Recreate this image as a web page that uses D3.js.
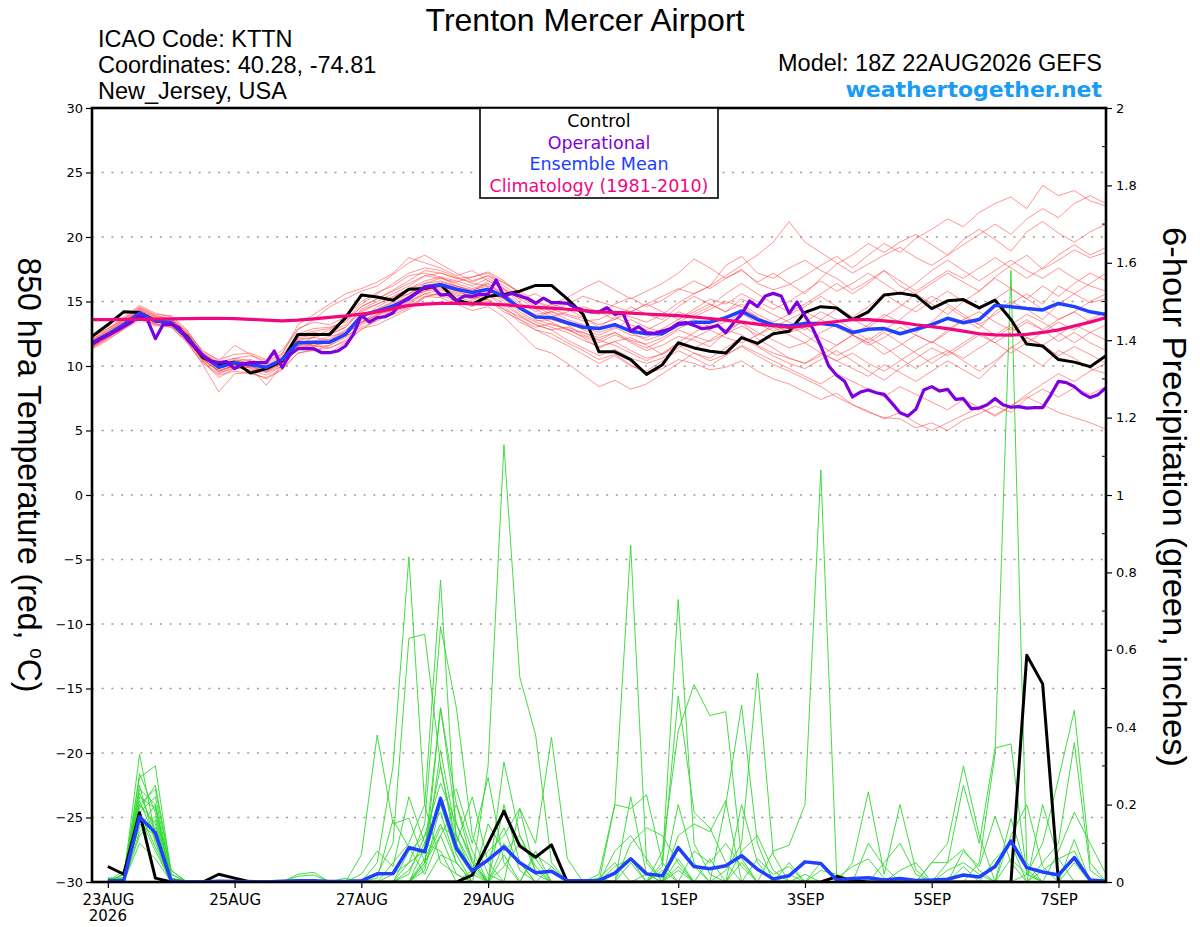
<!DOCTYPE html>
<html>
<head>
<meta charset="utf-8">
<script src="https://cdn.jsdelivr.net/npm/d3@7"></script>
<style>
  body { margin: 0; background: #fff; }
  svg { display: block; }
</style>
</head>
<body>
<div id="chart"></div>
<script>
// GEFS meteogram, Trenton Mercer Airport (KTTN), run 18Z 22AUG2026
const runStart = Date.UTC(2026, 7, 22, 18);
const HOUR = 3600 * 1000;

const tickDates = [
  Date.UTC(2026, 7, 23), Date.UTC(2026, 7, 25), Date.UTC(2026, 7, 27), Date.UTC(2026, 7, 29),
  Date.UTC(2026, 8, 1), Date.UTC(2026, 8, 3), Date.UTC(2026, 8, 5), Date.UTC(2026, 8, 7)
];
const tickLabels = ["23AUG", "25AUG", "27AUG", "29AUG", "1SEP", "3SEP", "5SEP", "7SEP"];
const tempTicks = [30, 25, 20, 15, 10, 5, 0, -5, -10, -15, -20, -25, -30];
const precipTicks = [0, 0.2, 0.4, 0.6, 0.8, 1, 1.2, 1.4, 1.6, 1.8, 2];
const precipMinor = [0.1, 0.3, 0.5, 0.7, 0.9, 1.1, 1.3, 1.5, 1.7, 1.9];
const legendItems = ["Control", "Operational", "Ensemble Mean", "Climatology (1981-2010)"];

// 850 hPa temperature, 6-hourly
const tempControl = [12.3, 13.2, 14.2, 14.15, 13.5, 13.3, 12.3, 10.65, 10.1, 10.3, 9.45, 9.8, 10.4,
  12.45, 12.45, 12.45, 13.75, 15.5, 15.35, 15.1, 15.95, 16.0, 16.3, 15.1, 14.8, 15.4, 15.55, 15.8,
  16.25, 16.25, 15.2, 14.0, 11.1, 11.1, 10.5, 9.35, 10.1, 11.8, 11.4, 11.15, 11.0, 12.2, 11.75, 12.5,
  12.7, 14.15, 14.6, 14.5, 13.6, 14.2, 15.5, 15.65, 15.45, 14.45, 15.05, 15.15, 14.5, 15.1, 13.6,
  11.7, 11.55, 10.5, 10.3, 9.95, 10.8];

const tempMean = [11.8, 12.45, 13.2, 14.1, 13.5, 13.35, 12.2, 10.8, 9.9, 10.25, 10.1, 9.9, 10.5,
  11.8, 11.85, 11.85, 12.45, 13.9, 14.25, 14.65, 15.2, 16.15, 16.3, 15.95, 15.7, 15.95, 15.4, 14.5,
  13.8, 13.75, 13.35, 13.0, 12.9, 13.2, 12.7, 12.5, 12.5, 13.2, 13.4, 13.4, 13.75, 14.25, 13.6, 13.2,
  13.1, 13.3, 13.3, 13.15, 12.6, 12.85, 12.9, 12.5, 12.85, 13.2, 13.7, 13.35, 13.6, 14.7, 14.6,
  14.45, 14.35, 14.85, 14.6, 14.2, 14.0];

const tempClimo = [13.6, 13.6, 13.61, 13.62, 13.63, 13.65, 13.67, 13.69, 13.7, 13.68, 13.62, 13.55,
  13.5, 13.55, 13.65, 13.77, 13.88, 14.02, 14.2, 14.45, 14.7, 14.8, 14.85, 14.85, 14.83, 14.8, 14.75,
  14.65, 14.55, 14.48, 14.4, 14.3, 14.2, 14.15, 14.1, 14.03, 13.97, 13.9, 13.8, 13.68, 13.55, 13.4,
  13.25, 13.12, 13.0, 13.1, 13.3, 13.45, 13.6, 13.6, 13.5, 13.38, 13.2, 13.05, 12.9, 12.7, 12.5,
  12.42, 12.4, 12.45, 12.6, 12.8, 13.1, 13.4, 13.75];

// operational run, 3-hourly
const tempOper = [11.68, 12.07, 12.38, 12.71, 13.05, 13.41, 13.88, 13.57, 12.12, 13.23,
  13.23, 12.97, 12.07, 11.42, 10.78, 10.39, 10.26, 10.34, 9.79, 10.13,
  10.26, 10.26, 10.26, 11.16, 9.87, 10.9, 11.34, 11.34, 11.34, 11.03,
  11.03, 11.16, 11.55, 12.45, 13.93, 13.41, 13.75, 13.82, 14.13, 14.91,
  15.3, 15.68, 16.07, 16.15, 15.5, 15.56, 15.04, 15.43, 15.4, 15.56,
  15.56, 16.67, 15.43, 15.63, 15.43, 15.22, 14.86, 15.27, 14.91, 14.91,
  14.86, 14.52, 14.34, 14.19, 14.19, 14.52, 14.0, 14.13, 12.71, 13.05,
  12.58, 12.53, 12.71, 12.89, 13.31, 13.36, 13.15, 12.89, 12.97, 13.15,
  12.58, 13.36, 14.0, 15.04, 14.6, 15.43, 15.63, 15.43, 14.08, 14.96,
  13.88, 12.89, 11.55, 10.0, 9.28, 8.81, 7.6, 7.98, 8.14, 7.93,
  7.8, 7.1, 6.38, 6.12, 6.64, 8.14, 8.4, 8.06, 8.19, 7.42,
  7.47, 6.69, 6.74, 7.0, 7.47, 7.0, 6.8, 6.85, 6.74, 6.77,
  6.77, 7.73, 8.81, 8.71, 8.4, 7.88, 7.55, 7.78, 8.32];

// ensemble members, 6-hourly
const tm01 = [12.0,12.7,13.5,14.3,13.8,13.2,12.0, 10.5,9.6,10.0,10.4,9.7,10.2, 11.5,12.3,12.8,13.5,14.6,15.2,15.8,16.4,17.0,16.8, 16.5,16.9,17.2,16.4,15.8,15.0,14.6,14.9,14.2, 14.0,14.8,15.3,14.6,15.1,15.9,16.6,16.0,16.8,17.5,16.4,15.9,16.3, 17.0,17.8,18.5,17.6,18.6,19.5,18.8,19.9,20.6,21.4,20.8,21.9,22.6,23.1,22.2,24.0,23.2,23.6,22.8,22.4];
const tm02 = [11.5,12.2,13.0,13.9,13.6,13.7,12.5, 10.9,10.2,10.1,9.6,9.9,10.7, 12.0,11.6,11.4,12.0,13.3,14.0,14.3,14.8,15.6,15.9, 15.5,15.2,15.5,14.6,13.6,12.8,12.5,11.8,11.2, 10.5,10.9,10.1,9.4,9.8,10.5,10.2,9.7,9.9,10.4,9.6,9.0,8.6, 8.0,7.4,7.9,7.0,6.4,6.0,5.9,5.2,5.6,5.0,5.8,6.3,6.9,6.4,7.5,8.2,7.6,8.3,7.8,8.4];
const tm03 = [12.2,12.9,13.6,14.5,13.9,13.6,12.6, 11.2,10.4,11.6,10.9,10.2,11.0, 12.8,13.6,14.6,15.2,15.8,16.2,17.1,18.0,18.6,17.9, 17.2,16.6,17.0,16.5,15.6,14.8,14.2,13.9,13.5, 13.6,14.2,13.8,13.4,14.0,14.9,15.6,16.2,17.8,18.5,17.2,16.8,17.6, 18.2,17.4,16.8,15.9,16.6,17.4,16.2,15.6,16.4,17.2,16.5,15.8,16.9,17.8,18.6,17.5,18.2,19.0,18.4,18.8];
const tm04 = [11.3,12.0,12.9,13.8,13.2,13.0,11.8, 10.2,9.3,9.6,9.4,9.1,9.8, 11.0,11.3,11.0,11.8,12.9,13.2,13.8,14.4,15.3,15.7, 15.4,15.0,15.8,15.2,14.2,13.5,13.6,13.2,12.4, 12.0,12.6,11.8,11.2,11.6,12.3,12.0,11.5,12.6,13.4,12.1,11.4,10.6, 10.2,11.0,10.4,9.8,9.2,10.1,9.5,8.8,9.6,10.4,9.7,9.0,10.2,11.5,10.8,10.0,11.2,10.6,9.8,9.4];
const tm05 = [11.9,12.6,13.4,14.0,13.3,13.5,12.4, 10.6,9.8,10.5,10.2,9.7,10.4, 12.2,12.4,12.5,13.0,14.2,14.8,15.4,16.0,16.6,16.9, 16.6,16.2,16.8,16.0,14.9,14.2,14.8,14.4,13.8, 13.0,13.8,13.2,12.8,13.4,14.2,13.8,14.4,15.0,14.6,13.8,13.2,12.6, 13.0,12.2,11.6,12.4,11.8,10.9,11.6,12.4,11.8,12.8,13.6,12.9,14.2,15.0,14.4,13.6,14.8,15.6,14.9,15.2];
const tm06 = [11.6,12.3,13.1,14.2,13.7,13.2,12.0, 10.4,9.1,9.8,9.9,8.5,10.1, 11.3,11.8,12.1,12.8,13.6,14.6,15.2,15.6,16.2,16.5, 16.2,15.8,16.4,15.6,14.8,13.6,13.2,12.9,12.2, 11.4,11.9,12.2,11.6,10.9,11.8,12.6,13.2,12.8,13.4,12.6,12.0,11.4, 11.8,12.6,13.2,12.4,11.6,12.2,13.0,12.4,11.8,12.6,13.6,14.2,13.4,12.8,13.6,12.8,11.9,12.6,11.8,11.2];
const tm07 = [11.7,12.4,13.3,14.4,13.6,13.4,12.3, 10.8,10.0,10.2,9.8,9.5,10.0, 11.4,11.6,11.8,12.3,13.0,13.5,14.2,14.6,15.4,15.3, 14.8,14.3,14.6,13.8,12.6,11.4,11.0,10.2,9.3, 8.4,8.9,8.2,8.6,9.4,10.2,11.0,10.6,11.4,12.2,11.5,10.8,10.2, 9.8,10.5,11.2,10.4,9.6,8.9,9.8,10.6,11.4,10.8,11.6,12.4,11.8,12.6,13.4,12.8,13.6,14.2,13.4,13.8];
const tm08 = [12.1,12.8,13.7,14.6,14.0,13.9,12.8, 11.0,10.3,10.6,10.8,10.4,10.9, 13.2,14.0,14.8,15.6,16.0,16.5,17.2,18.4,18.0,17.6, 17.0,17.4,16.6,15.9,15.2,15.6,14.8,15.3,16.0, 16.6,15.9,15.2,15.8,16.4,17.2,18.3,17.6,16.8,17.4,16.5,17.2,16.4, 15.6,16.8,17.9,18.6,19.5,18.8,19.6,20.2,19.4,18.6,19.8,20.6,19.8,18.9,20.4,21.2,20.3,19.6,20.4,21.0];
const tm09 = [11.4,12.1,12.8,13.6,13.1,13.1,12.0, 10.3,9.4,9.9,9.7,9.3,10.0, 11.6,11.2,11.4,11.9,12.8,13.6,14.4,14.9,15.8,16.2, 15.8,15.4,15.1,14.2,13.6,13.0,13.3,12.8,12.3, 11.8,12.4,11.9,11.4,12.0,12.8,12.3,11.9,12.5,13.1,12.4,13.0,13.6, 14.2,13.6,13.0,12.4,13.2,14.0,13.4,12.6,13.4,14.6,13.8,13.2,14.0,14.8,15.6,14.8,16.2,15.6,16.4,17.2];
const tm10 = [11.8,12.5,13.4,14.3,13.6,13.6,12.5, 10.9,10.1,10.4,10.1,10.0,10.6, 12.0,12.2,12.0,12.7,14.0,14.4,15.0,15.6,16.4,16.8, 16.4,16.0,16.4,15.4,14.6,14.0,14.2,13.6,13.2, 12.8,13.3,12.6,12.0,12.4,13.2,13.6,13.0,13.4,14.1,13.3,12.7,13.2, 12.4,11.6,10.8,11.4,12.2,11.5,10.6,9.8,10.6,11.2,10.4,9.6,10.4,11.4,12.2,11.6,10.8,11.5,10.9,10.2];
const tm11 = [11.5,12.3,13.1,13.8,13.4,13.3,12.1, 10.4,9.7,10.0,10.0,9.6,10.3, 11.5,11.9,12.3,12.6,13.4,14.0,14.6,15.2,15.9,16.1, 15.7,15.5,15.9,15.0,14.0,13.4,13.0,12.6,12.0, 11.5,11.9,11.2,10.6,10.9,11.6,11.0,10.4,10.9,11.5,10.8,10.1,9.6, 9.0,8.4,7.6,7.0,6.5,5.9,6.4,5.6,5.0,5.6,6.2,6.8,6.2,6.9,7.6,7.0,6.4,6.0,5.6,5.1];
const tm12 = [12.0,12.6,13.3,14.2,13.4,13.6,12.4, 11.0,10.2,10.4,10.5,10.1,10.8, 12.4,12.7,12.9,13.6,14.8,15.6,16.4,17.2,17.6,17.4, 16.9,16.4,16.2,15.2,14.4,13.8,14.2,14.8,15.4, 15.0,14.6,14.2,14.8,15.4,16.0,15.6,16.2,17.0,17.8,18.6,19.6,21.2, 19.6,18.8,18.0,17.2,17.9,18.6,19.2,18.4,17.8,18.6,19.4,20.2,21.0,20.2,21.4,22.2,21.5,22.6,23.2,22.6];
const tm13 = [11.6,12.4,13.2,13.9,13.5,13.1,12.1, 10.6,9.5,9.8,10.0,9.5,10.2, 11.7,11.5,11.6,12.2,13.2,13.8,14.0,14.5,15.4,15.6, 15.2,14.8,15.0,14.4,13.8,13.2,12.8,12.0,11.4, 10.8,11.3,10.6,10.2,10.6,11.4,12.2,12.8,12.2,11.8,12.4,13.2,12.6, 13.4,14.2,13.6,12.8,12.0,12.8,13.6,14.6,15.4,14.8,14.0,13.2,12.4,13.2,14.0,13.4,12.6,11.8,12.6,13.2];
const tm14 = [12.3,12.9,13.8,14.7,14.1,13.8,12.7, 11.1,10.5,10.9,11.0,10.5,11.2, 12.9,13.4,13.2,13.8,15.0,15.7,16.2,17.0,17.2,16.9, 16.2,15.8,16.6,16.0,15.2,14.4,13.8,14.2,14.6, 14.2,13.6,14.2,14.8,14.2,13.6,14.4,15.2,14.8,15.6,15.0,14.4,15.0, 15.8,16.6,15.8,16.4,17.2,16.4,15.6,16.4,17.4,18.2,17.4,16.6,17.4,18.2,17.4,16.8,17.6,16.8,16.2,15.8];
const tm15 = [11.4,12.2,12.9,13.7,13.3,13.0,11.9, 10.1,8.0,9.4,9.5,9.0,9.7, 11.0,11.2,11.6,12.4,13.4,13.9,14.5,15.0,15.6,15.5, 15.0,14.6,15.2,14.4,13.4,12.8,12.2,11.6,10.9, 10.2,10.8,10.0,9.6,10.4,11.2,10.6,10.0,10.8,11.6,11.0,10.4,9.8, 9.2,8.6,9.4,8.8,8.2,7.6,8.4,7.8,7.2,6.6,7.4,6.8,6.1,6.9,7.8,8.6,9.4,8.8,9.6,10.2];
const tm16 = [11.9,12.6,13.5,14.4,13.8,13.5,12.3, 10.7,9.9,10.3,10.3,9.8,10.5, 12.3,12.6,12.4,13.0,14.4,15.0,15.6,16.2,17.0,17.2, 16.8,16.5,17.0,16.2,15.4,14.6,14.0,13.4,12.8, 12.4,12.9,13.6,13.0,12.6,13.4,14.0,14.6,15.6,16.4,15.6,14.8,14.2, 14.8,15.6,16.4,15.6,16.4,17.4,16.6,15.8,16.6,17.4,16.8,17.6,18.4,17.6,16.8,17.6,18.6,19.4,18.6,19.2];
const tm17 = [11.7,12.5,13.3,14.1,13.6,13.4,12.2, 10.7,9.6,10.1,10.3,9.9,10.4, 11.9,11.8,11.9,12.5,13.8,14.4,14.9,15.4,16.2,16.4, 16.1,15.6,15.9,15.2,14.6,13.9,13.4,12.8,12.6, 12.2,12.6,12.0,11.7,12.2,12.9,13.4,12.8,13.8,14.4,13.8,13.0,12.4, 11.8,11.0,10.4,11.0,10.2,9.6,10.4,11.2,11.9,11.2,10.6,11.4,12.2,13.0,12.2,11.6,12.4,13.2,12.6,12.0];
const tm18 = [12.1,12.7,13.6,14.5,13.9,13.7,12.6, 10.9,10.0,10.6,10.4,9.9,10.6, 12.5,12.9,13.0,13.4,14.6,15.2,15.9,16.6,17.4,17.2, 16.8,16.9,17.3,16.6,15.6,15.0,14.4,14.0,13.7, 13.2,13.6,14.6,14.0,13.6,14.6,15.4,14.8,14.2,15.2,14.6,14.0,13.4, 12.8,13.6,14.4,13.6,13.0,13.8,14.6,15.6,14.8,14.0,15.0,15.8,16.8,16.0,15.2,16.2,15.4,16.4,17.2,16.6];
const tm19 = [11.5,12.2,13.0,13.8,13.2,13.3,12.2, 10.5,9.6,10.0,9.9,9.6,10.2, 11.8,11.6,11.9,12.4,13.4,14.2,14.8,15.3,15.8,16.0, 15.6,15.2,15.6,14.8,13.9,13.2,12.8,13.0,12.6, 12.0,11.6,11.0,10.4,11.0,11.8,11.4,12.0,12.8,12.4,11.6,11.0,10.6, 10.2,10.8,11.6,12.4,11.8,12.6,11.8,11.0,10.2,11.0,11.8,12.6,11.8,11.0,11.8,12.6,13.4,12.8,13.6,14.2];
const tm20 = [11.8,12.5,13.2,14.0,13.5,13.4,12.4, 10.8,9.9,10.2,10.1,9.8,10.4, 12.1,12.2,12.6,13.2,14.3,14.8,15.3,16.0,16.4,16.6, 16.2,15.9,16.2,15.6,14.6,13.9,13.7,13.4,13.0, 12.6,13.0,12.4,12.2,12.9,13.6,14.2,14.8,14.2,14.8,14.0,13.4,14.0, 14.6,15.4,14.6,13.8,14.6,15.6,14.8,14.2,15.0,15.8,15.0,14.4,15.2,16.0,15.2,14.4,13.6,14.2,15.0,15.6];

// 6-hour precipitation (inches); index 0 is the analysis time and is not drawn
const precipControl = [0, 0.04, 0.02, 0.179, 0.01, 0, 0, 0, 0.02, 0.01,
  0, 0, 0, 0, 0, 0, 0, 0, 0, 0,
  0, 0, 0, 0, 0.018, 0.1, 0.183, 0.093, 0.064, 0.096,
  0, 0, 0, 0, 0, 0, 0, 0, 0, 0,
  0, 0, 0, 0, 0, 0, 0, 0.014, 0.004, 0,
  0, 0, 0, 0, 0, 0, 0, 0, 0, 0.586,
  0.512, 0, 0, 0, 0];
const precipMean = [0, 0.003, 0.003, 0.169, 0.127, 0.003, 0, 0, 0.002, 0.001,
  0, 0, 0.002, 0.003, 0.003, 0.001, 0.001, 0.003, 0.021, 0.022,
  0.089, 0.078, 0.216, 0.087, 0.029, 0.057, 0.091, 0.05, 0.024, 0.028,
  0.003, 0.003, 0.004, 0.023, 0.06, 0.021, 0.016, 0.089, 0.04, 0.034,
  0.042, 0.068, 0.033, 0.008, 0.016, 0.052, 0.048, 0.005, 0.009, 0.011,
  0.005, 0.009, 0.004, 0.005, 0.007, 0.018, 0.013, 0.04, 0.106, 0.037,
  0.026, 0.018, 0.063, 0.005, 0.002];

const pm01 = [0,0,0.01,0.33,0.12,0,0,0,0,0, 0,0,0,0,0,0,0,0,0,0, 0,0,0,0,0.02,0.3,1.13,0.53,0.38,0.05, 0,0,0,0,0,0,0,0,0,0, 0,0,0,0,0,0,0,0,0,0, 0,0,0,0,0,0,0,0,0,0, 0,0,0,0,0];
const pm02 = [0,0,0.02,0.27,0.3,0.02,0,0,0,0, 0,0,0,0,0,0,0,0,0.05,0.3, 0.84,0.2,0.05,0.02,0,0,0.1,0.05,0,0, 0,0,0,0,0,0,0.04,0.48,0.18,0.14, 0.05,0,0,0,0,0.02,0,0,0,0.1, 0.04,0,0,0,0,0,0,0,0,0, 0,0,0,0,0];
const pm03 = [0,0.01,0,0.24,0.2,0,0,0,0,0, 0,0,0,0.02,0.025,0,0,0,0.02,0.1, 0.63,0.64,0.3,0.08,0.02,0,0,0,0,0, 0,0,0,0,0.22,0.02,0,0.12,0.15,0.13, 0.21,0,0,0,0,0,0,0,0,0, 0.05,0.1,0.02,0,0,0,0,0,0.164,0.03, 0,0,0,0,0];
const pm04 = [0,0,0.01,0.22,0.19,0.03,0,0,0,0, 0,0,0,0,0,0,0,0,0,0.05, 0.1,0.2,0.78,0.1,0.22,0.05,0,0,0,0, 0,0,0,0.08,0.12,0.06,0,0,0,0, 0,0.2,0.05,0,0,0,0.05,0.01,0,0, 0,0,0,0,0,0,0,0,0,0, 0,0,0,0,0];
const pm05 = [0,0,0,0.2,0.15,0,0,0,0,0, 0,0,0,0,0,0,0,0,0,0, 0.05,0.15,0.66,0.45,0.12,0.02,0,0,0.08,0, 0,0,0,0,0.1,0.14,0.12,0.05,0,0, 0,0,0,0,0,0,0,0,0,0, 0,0,0,0,0,0.08,0.04,0.17,0.05,0, 0,0,0.11,0,0];
const pm06 = [0,0,0.02,0.18,0.22,0.01,0,0,0,0, 0,0,0,0,0,0,0,0.07,0.38,0.15, 0.165,0.05,0.12,0.02,0,0,0,0,0,0, 0,0,0,0,0,0,0,0,0.08,0.05, 0.1,0.04,0,0,0,0,0,0,0,0, 0,0,0,0.05,0.05,0.085,0.03,0,0,0, 0,0,0,0,0];
const pm07 = [0,0,0,0.15,0.12,0,0,0,0,0, 0,0,0,0.015,0.018,0,0,0,0,0, 0,0.05,0.34,0.12,0.04,0,0.2,0.05,0,0, 0,0,0,0.2,0.87,0.05,0,0,0,0, 0,0,0,0,0,0,0,0,0,0, 0,0,0,0,0,0,0,0,0,0, 0.2,0.06,0,0,0];
const pm08 = [0,0.01,0.01,0.25,0.1,0,0,0,0,0, 0,0,0,0,0,0,0,0,0,0, 0.08,0.12,0.255,0.15,0.05,0,0.31,0.12,0.03,0, 0,0,0,0,0,0,0.05,0.73,0.1,0.02, 0,0,0,0,0,0,0.03,0.02,0,0, 0,0,0,0,0,0,0,0.06,0.1,0, 0,0,0,0,0];
const pm09 = [0,0,0.03,0.2,0.24,0.02,0,0,0,0, 0,0,0,0,0,0,0,0,0,0, 0,0.03,0.2,0.24,0.1,0.27,0.05,0,0,0, 0,0,0,0,0,0,0.08,0.39,0.51,0.43, 0.44,0.06,0,0,0,0,0,0.01,0.04,0.06, 0.01,0,0,0,0,0,0,0,0,0, 0,0,0,0,0];
const pm10 = [0,0,0,0.12,0.16,0,0,0,0,0, 0.005,0,0,0,0,0,0,0,0,0.02, 0.05,0.08,0.45,0.15,0.06,0,0,0.19,0.02,0, 0,0,0,0,0,0,0,0,0,0, 0.2,0.457,0.1,0,0,0,0,0,0,0, 0,0,0,0,0,0,0,0,0.12,0.2, 0.04,0,0,0,0];
const pm11 = [0,0,0.01,0.17,0.08,0,0,0,0,0, 0,0,0,0,0,0,0,0,0.01,0.16, 0.09,0.02,0.12,0.2,0.08,0,0,0,0,0, 0,0,0,0,0,0,0,0,0,0, 0.03,0.1,0.54,0.07,0,0,0,0,0,0, 0,0,0,0,0,0,0,0,0,0, 0,0.08,0.18,0.1,0.02];
const pm12 = [0,0,0,0.28,0.18,0.01,0,0,0,0, 0,0,0,0,0,0,0,0,0,0, 0,0.06,0.15,0.05,0,0.15,0.08,0.12,0.04,0, 0,0,0.01,0.05,0,0,0,0.06,0,0, 0,0,0,0.08,0.095,0.2,1.065,0.02,0,0, 0,0,0,0,0,0,0,0,0,0, 0,0,0,0,0];
const pm13 = [0,0,0.02,0.14,0.2,0,0,0,0,0, 0,0,0,0,0,0,0,0,0,0, 0.03,0.1,0.2,0.07,0,0,0,0,0.07,0.04, 0,0,0,0,0,0.02,0,0.09,0.04,0, 0,0,0,0,0,0,0,0,0,0, 0,0,0,0,0,0,0.05,0.33,1.58,0.05, 0,0,0,0,0];
const pm14 = [0,0,0,0.1,0.06,0,0,0,0,0, 0,0,0,0,0,0,0,0,0,0, 0,0,0,0,0.03,0.08,0.12,0.19,0.1,0.374, 0.06,0,0,0.04,0.06,0,0,0,0,0, 0,0,0,0,0.05,0,0,0,0,0, 0,0.03,0.05,0,0,0,0,0,0,0, 0,0,0.05,0,0];
const pm15 = [0,0.01,0.01,0.19,0.25,0.03,0,0,0,0, 0,0,0,0,0,0,0,0,0,0, 0,0.09,0.3,0.1,0.03,0,0,0,0,0, 0,0,0.02,0.2,0.19,0.225,0.05,0,0,0, 0,0,0,0,0,0,0,0,0,0, 0,0,0,0,0,0.04,0,0,0.06,0.02, 0,0,0,0,0];
const pm16 = [0,0,0,0.16,0.14,0,0,0,0,0, 0,0,0,0,0,0,0.01,0,0,0, 0.02,0.12,0.18,0.05,0,0,0.07,0,0,0, 0,0,0,0,0,0,0,0.04,0,0, 0,0.08,0.12,0.03,0,0,0,0,0,0, 0,0,0,0,0,0,0,0,0,0, 0.03,0.06,0.08,0,0];
const pm17 = [0,0,0.02,0.21,0.11,0,0,0,0,0, 0,0,0,0,0,0,0,0,0,0, 0,0.05,0.14,0.12,0.02,0.06,0.14,0.03,0,0, 0,0,0,0,0.05,0,0.03,0,0,0.06, 0,0,0,0,0,0,0,0,0,0, 0,0,0,0,0,0,0,0,0,0.02, 0.1,0.266,0.444,0.05,0];
const pm18 = [0,0,0,0.13,0.17,0.01,0,0,0,0, 0,0,0,0,0,0,0,0,0,0, 0,0,0.07,0.05,0,0,0.04,0.1,0.06,0, 0,0,0,0,0,0,0,0,0,0, 0,0,0.06,0.02,0.04,0,0,0,0,0, 0,0,0,0.05,0.1,0.3,0.12,0,0,0, 0.05,0.1,0.36,0.03,0];
const pm19 = [0,0,0.01,0.23,0.13,0,0,0,0,0, 0,0,0,0,0,0,0,0.02,0.08,0.04, 0.22,0.1,0.08,0,0,0,0,0,0,0, 0,0,0.01,0,0,0,0,0.03,0,0, 0,0.05,0,0,0,0,0,0,0.05,0.233, 0.02,0.2,0.03,0,0.05,0.25,0.1,0.346,0.357,0.02, 0,0,0,0,0];
const pm20 = [0,0,0,0.18,0.09,0,0,0,0,0, 0,0,0,0,0,0,0,0,0,0, 0,0.04,0.45,0.2,0.05,0,0,0,0,0.04, 0,0,0,0,0,0,0,0.2,0.05,0, 0,0,0,0,0.02,0,0,0,0,0, 0,0,0,0,0.03,0.05,0.02,0,0,0, 0,0,0,0,0];

const tempMembers = [tm01, tm02, tm03, tm04, tm05, tm06, tm07, tm08, tm09, tm10,
  tm11, tm12, tm13, tm14, tm15, tm16, tm17, tm18, tm19, tm20];
const precipMembers = [pm01, pm02, pm03, pm04, pm05, pm06, pm07, pm08, pm09, pm10,
  pm11, pm12, pm13, pm14, pm15, pm16, pm17, pm18, pm19, pm20];

// colours
const cControl = "#000000";
const cOper = "#7f00df";
const cMean = "#2040ff";
const cClimo = "#f0087f";
const cMember = "#ff4040";
const cPrecip = "#2fd82f";

// layout
const W = 1200, H = 927;
const margin = { top: 108, right: 94, bottom: 45, left: 92 };
const width = W - margin.left - margin.right;
const height = H - margin.top - margin.bottom;
const FONT = "'DejaVu Sans', 'Liberation Sans', sans-serif";
const FONT_NARROW = "'Liberation Sans', Arial, sans-serif";

const root = d3.select("#chart").append("svg")
  .attr("width", W).attr("height", H)
  .style("font-family", FONT);
root.append("rect").attr("width", W).attr("height", H).attr("fill", "#fff");

const svg = root.append("g").attr("transform", `translate(${margin.left},${margin.top})`);

// scales
const x = d3.scaleUtc()
  .domain([new Date(runStart), new Date(runStart + 384 * HOUR)])
  .range([0, width]);
const yT = d3.scaleLinear().domain([-30, 30]).range([height, 0]);
const yP = d3.scaleLinear().domain([0, 2]).range([height, 0]);

const t6 = i => x(new Date(runStart + i * 6 * HOUR));
const t3 = i => x(new Date(runStart + i * 3 * HOUR));

// dotted grid on temperature ticks
svg.append("g").selectAll("line")
  .data(tempTicks.filter(t => t > -30 && t < 30))
  .enter().append("line")
  .attr("x1", 0).attr("x2", width)
  .attr("y1", d => yT(d)).attr("y2", d => yT(d))
  .attr("stroke", "#9a9a9a").attr("stroke-width", 1.4)
  .attr("stroke-dasharray", "2,7.7");

svg.append("clipPath").attr("id", "plot-clip")
  .append("rect").attr("width", width).attr("height", height);
const plot = svg.append("g").attr("clip-path", "url(#plot-clip)");

const lineTemp6 = d3.line().x((d, i) => t6(i)).y(d => yT(d));
const lineTemp3 = d3.line().x((d, i) => t3(i)).y(d => yT(d));
const linePrecip = d3.line().defined((d, i) => i > 0).x((d, i) => t6(i)).y(d => yP(d));

// ensemble members
plot.append("g").selectAll("path").data(precipMembers).enter().append("path")
  .attr("d", linePrecip).attr("fill", "none")
  .attr("stroke", cPrecip).attr("stroke-width", 0.9);

plot.append("g").selectAll("path").data(tempMembers).enter().append("path")
  .attr("d", lineTemp6).attr("fill", "none")
  .attr("stroke", cMember).attr("stroke-width", 0.7).attr("stroke-opacity", 0.8);

// control, mean, operational, climatology
plot.append("path").attr("d", linePrecip(precipControl)).attr("fill", "none")
  .attr("stroke", cControl).attr("stroke-width", 3).attr("stroke-linejoin", "round");
plot.append("path").attr("d", lineTemp6(tempControl)).attr("fill", "none")
  .attr("stroke", cControl).attr("stroke-width", 3).attr("stroke-linejoin", "round");
plot.append("path").attr("d", linePrecip(precipMean)).attr("fill", "none")
  .attr("stroke", cMean).attr("stroke-width", 3.5).attr("stroke-linejoin", "round");
plot.append("path").attr("d", lineTemp6(tempMean)).attr("fill", "none")
  .attr("stroke", cMean).attr("stroke-width", 3.5).attr("stroke-linejoin", "round");
plot.append("path").attr("d", lineTemp3(tempOper)).attr("fill", "none")
  .attr("stroke", cOper).attr("stroke-width", 3.2).attr("stroke-linejoin", "round");
plot.append("path").attr("d", lineTemp6(tempClimo)).attr("fill", "none")
  .attr("stroke", cClimo).attr("stroke-width", 3.2).attr("stroke-linejoin", "round");

// axes
const leftAxis = svg.append("g")
  .call(d3.axisLeft(yT).tickValues(tempTicks).tickSize(6).tickPadding(3));
leftAxis.select(".domain").remove();
leftAxis.selectAll("text").style("font-size", "13px").style("font-family", FONT);
leftAxis.selectAll("line").attr("stroke-width", 1.2);

const rightAxis = svg.append("g").attr("transform", `translate(${width},0)`)
  .call(d3.axisRight(yP).tickValues(precipTicks).tickSize(6).tickPadding(4)
    .tickFormat(d => d3.format("~g")(d)));
rightAxis.select(".domain").remove();
rightAxis.selectAll("text").style("font-size", "13px").style("font-family", FONT);
rightAxis.selectAll("line").attr("stroke-width", 1.2);

svg.append("g").selectAll("line").data(precipMinor).enter().append("line")
  .attr("x1", width - 4).attr("x2", width)
  .attr("y1", d => yP(d)).attr("y2", d => yP(d))
  .attr("stroke", "#000").attr("stroke-width", 1);

const bottomAxis = svg.append("g").attr("transform", `translate(0,${height})`)
  .call(d3.axisBottom(x).tickValues(tickDates.map(d => new Date(d)))
    .tickSize(6).tickPadding(6).tickFormat((d, i) => tickLabels[i]));
bottomAxis.select(".domain").remove();
bottomAxis.selectAll("text").style("font-size", "15px").style("font-family", FONT);
bottomAxis.selectAll("line").attr("stroke-width", 1.2);

svg.append("text")
  .attr("x", x(new Date(tickDates[0]))).attr("y", height + 39)
  .attr("text-anchor", "middle").style("font-size", "15px")
  .text("2026");

// frame
svg.append("rect").attr("width", width).attr("height", height)
  .attr("fill", "none").attr("stroke", "#000").attr("stroke-width", 2.6);

// legend
const legend = svg.append("g").attr("transform", `translate(${480 - margin.left},0)`);
legend.append("rect").attr("width", 238).attr("height", 90)
  .attr("fill", "#fff").attr("stroke", "#000").attr("stroke-width", 1.6);
const legendColors = [cControl, cOper, cMean, cClimo];
legendItems.forEach((label, i) => {
  legend.append("text")
    .attr("x", 119).attr("y", 19 + i * 21.5)
    .attr("text-anchor", "middle")
    .style("font-size", "17.5px")
    .attr("fill", legendColors[i])
    .text(label);
});

// axis titles
root.append("text")
  .attr("transform", "translate(18,475) rotate(90)")
  .attr("text-anchor", "middle")
  .attr("textLength", 435).attr("lengthAdjust", "spacingAndGlyphs")
  .style("font-family", FONT_NARROW)
  .style("font-size", "34px")
  .call(t => {
    t.append("tspan").text("850 hPa Temperature (red, ");
    t.append("tspan").attr("dy", -12).style("font-size", "20px").text("o");
    t.append("tspan").attr("dy", 12).text("C)");
  });

root.append("text")
  .attr("transform", "translate(1163,497) rotate(90)")
  .attr("text-anchor", "middle")
  .attr("textLength", 540).attr("lengthAdjust", "spacingAndGlyphs")
  .style("font-family", FONT_NARROW)
  .style("font-size", "34px")
  .text("6-hour Precipitation (green, inches)");

// header
root.append("text")
  .attr("x", 585).attr("y", 31).attr("text-anchor", "middle")
  .style("font-family", FONT_NARROW)
  .style("font-size", "32px")
  .text("Trenton Mercer Airport");

const infoLines = ["ICAO Code: KTTN", "Coordinates: 40.28, -74.81", "New_Jersey, USA"];
infoLines.forEach((s, i) => {
  root.append("text")
    .attr("x", 98).attr("y", 47 + i * 26)
    .style("font-family", FONT_NARROW)
    .style("font-size", "23.5px")
    .text(s);
});

root.append("text")
  .attr("x", 1102).attr("y", 71).attr("text-anchor", "end")
  .style("font-family", FONT_NARROW)
  .style("font-size", "23.5px")
  .text("Model: 18Z 22AUG2026 GEFS");
root.append("text")
  .attr("x", 1102).attr("y", 97).attr("text-anchor", "end")
  .style("font-size", "22px").style("font-weight", "bold")
  .attr("fill", "#1a9cf2")
  .text("weathertogether.net");
</script>
</body>
</html>
